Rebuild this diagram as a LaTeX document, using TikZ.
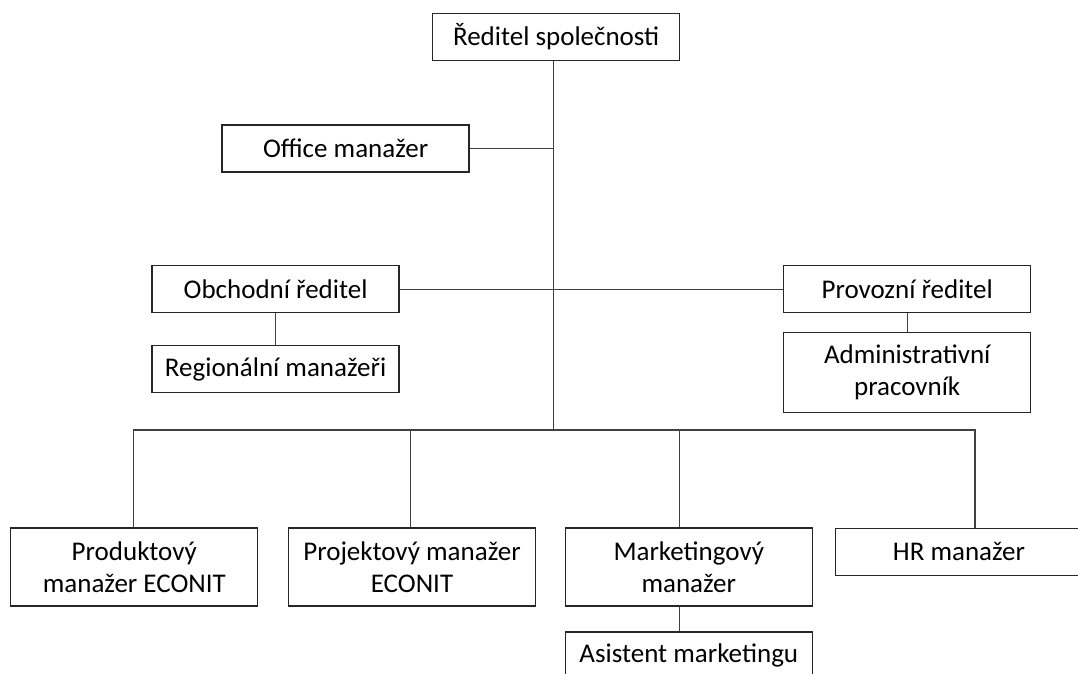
\documentclass[tikz,border=0pt]{standalone}
\usepackage{fontspec}
\setmainfont{Carlito}
\begin{document}
\begin{tikzpicture}[x=1pt,y=-1pt,
  box/.style={draw=black!85,line width=1.3pt,fill=white,inner sep=0pt,
    minimum width=247pt,minimum height=47pt,align=center,
    font=\fontsize{27}{31.5}\selectfont},
  tall/.style={minimum height=78pt},
  conn/.style={draw=black!75,line width=1.3pt,line join=miter}]
\useasboundingbox (0,0) rectangle (1078,674);
\clip (0,0) rectangle (1078,674);
% junction coordinates
\coordinate (t) at (553.7,430);
\coordinate (d1) at (133.5,430);
\coordinate (d2) at (410.7,430);
\coordinate (d3) at (679.7,430);
\coordinate (d4) at (975,430);
\node[box] (dir) at (556.2,37) {Ředitel společnosti};
\node[box] (office) at (345.6,148.5) {Office manažer};
\node[box] (obch) at (275.6,289.2) {Obchodní ředitel};
\node[box] (reg) at (275.6,369.2) {Regionální manažeři};
\node[box] (prov) at (907.2,289.2) {Provozní ředitel};
\node[box,minimum height=79.6pt] (admin) at (907.2,372.5) {Administrativní\\pracovník};
\node[box,tall] (prod) at (134.3,567) {Produktový\\manažer ECONIT};
\node[box,tall] (proj) at (412,567) {Projektový manažer\\ECONIT};
\node[box,tall] (mark) at (688.8,567) {Marketingový\\manažer};
\node[box] (hr) at (959,551.8) {HR manažer};
\node[box] (asist) at (688.8,655.5) {Asistent marketingu};
\draw[conn] (dir.south -| t) -- (t);
\draw[conn] (office.east) -- (office.east -| t);
\draw[conn] (obch.east) -- (prov.west);
\draw[conn] (obch.south) -- (reg.north);
\draw[conn] (prov.south) -- (admin.north);
\draw[conn] (prod.north -| d1) -- (d1) -- (d4) -- (hr.north -| d4);
\draw[conn] (d2) -- (proj.north -| d2);
\draw[conn] (d3) -- (mark.north -| d3);
\draw[conn] (mark.south -| d3) -- (asist.north -| d3);
\end{tikzpicture}
\end{document}
